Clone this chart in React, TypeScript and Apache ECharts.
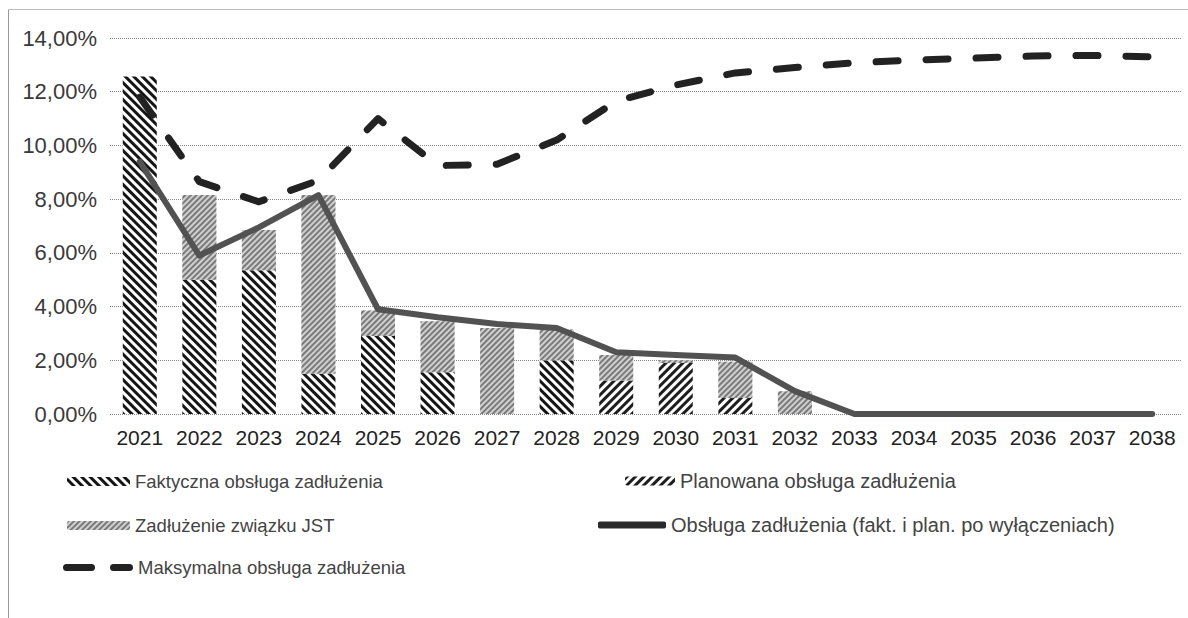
import React, { useEffect, useRef } from "react";
import * as echarts from "echarts";

const years = ["2021","2022","2023","2024","2025","2026","2027","2028","2029","2030","2031","2032","2033","2034","2035","2036","2037","2038"];
const faktyczna = [12.57, 5.0, 5.35, 1.5, 2.9, 1.55, 0, 2.0, 0, 0, 0, 0, 0, 0, 0, 0, 0, 0];
const planowana = [0, 0, 0, 0, 0, 0, 0, 0, 1.25, 1.9, 0.6, 0, 0, 0, 0, 0, 0, 0];
const zadluzenieJST = [0, 3.15, 1.5, 6.65, 0.95, 1.9, 3.2, 1.15, 0.95, 0.1, 1.35, 0.85, 0, 0, 0, 0, 0, 0];
const obslugaPoWylaczeniach = [9.4, 5.9, 6.95, 8.15, 3.9, 3.6, 3.35, 3.2, 2.3, 2.2, 2.1, 0.85, 0, 0, 0, 0, 0, 0];
const maksymalna = [11.8, 8.65, 7.9, 8.7, 11.0, 9.25, 9.3, 10.2, 11.65, 12.25, 12.7, 12.9, 13.08, 13.18, 13.25, 13.33, 13.35, 13.3];

const N1 = "Faktyczna obsługa zadłużenia";
const N2 = "Planowana obsługa zadłużenia";
const N3 = "Zadłużenie związku JST";
const N4 = "Obsługa zadłużenia (fakt. i plan. po wyłączeniach)";
const N5 = "Maksymalna obsługa zadłużenia";

const FONT = "'Liberation Sans', Arial, sans-serif";
const DASH_ICON =
  "path://M3.5,0H28.5A3.5,3.5,0,0,1,28.5,7H3.5A3.5,3.5,0,0,1,3.5,0Z M50.5,0H66.5A3.5,3.5,0,0,1,66.5,7H50.5A3.5,3.5,0,0,1,50.5,0Z";

export default function App() {
  const ref = useRef<HTMLDivElement>(null);
  useEffect(() => {
    if (!ref.current) return;
    const chart = echarts.init(ref.current, null, { renderer: "svg" });
    const legendText = { fontFamily: FONT, fontSize: 18.5, color: "#444" };
    const legendTextR = { fontFamily: FONT, fontSize: 20, color: "#444" };
    const option: any = {
      animation: false,
      backgroundColor: "#fff",
      grid: { left: 110, right: 6, top: 38, bottom: 204, containLabel: false },
      xAxis: {
        type: "category",
        data: years,
        axisLine: { show: false },
        axisTick: { show: false },
        axisLabel: { fontFamily: FONT, fontSize: 21, color: "#222", margin: 13, interval: 0, hideOverlap: false },
      },
      yAxis: {
        type: "value",
        min: 0,
        max: 14,
        interval: 2,
        axisLine: { show: false },
        axisTick: { show: false },
        axisLabel: {
          fontFamily: FONT,
          fontSize: 22,
          color: "#3a3a3a",
          margin: 13,
          formatter: (v: number) => v.toFixed(2).replace(".", ",") + "%",
        },
        splitLine: { lineStyle: { color: "#888", type: "dotted", width: 1 } },
      },
      legend: [
        { data: [N1], left: 62, top: 467, itemWidth: 63, itemHeight: 9, textStyle: legendText },
        { data: [N3], left: 62, top: 511, itemWidth: 63, itemHeight: 9, textStyle: legendText },
        {
          data: [{ name: N5, icon: DASH_ICON }],
          left: 58, top: 553, itemWidth: 70, itemHeight: 7,
          itemStyle: { color: "#222" },
          textStyle: legendText,
        },
        { data: [N2], left: 620, top: 466, itemWidth: 50, itemHeight: 9, textStyle: legendTextR },
        {
          data: [{ name: N4, icon: "roundRect" }],
          left: 593, top: 510, itemWidth: 68, itemHeight: 7,
          itemStyle: { color: "#2a2a2a" },
          textStyle: legendTextR,
        },
      ],
      graphic: [
        { type: "line", shape: { x1: 8.5, y1: 9.5, x2: 8.5, y2: 618 }, style: { stroke: "#999", lineWidth: 1 } },
        { type: "line", shape: { x1: 8.5, y1: 9.5, x2: 1188, y2: 9.5 }, style: { stroke: "#bbb", lineWidth: 1 } },
      ],
      series: [
        {
          name: N1,
          type: "bar",
          stack: "b",
          barWidth: 34,
          data: faktyczna,
          itemStyle: {
            color: "#fff",
            decal: { symbol: "rect", symbolSize: 1, color: "#151515", dashArrayX: [1, 0], dashArrayY: [3, 3], rotation: Math.PI / 4 },
          },
        },
        {
          name: N2,
          type: "bar",
          stack: "b",
          barWidth: 34,
          data: planowana,
          itemStyle: {
            color: "#fff",
            decal: { symbol: "rect", symbolSize: 1, color: "#1e1e1e", dashArrayX: [1, 0], dashArrayY: [3, 3], rotation: -Math.PI / 4 },
          },
        },
        {
          name: N3,
          type: "bar",
          stack: "b",
          barWidth: 34,
          data: zadluzenieJST,
          itemStyle: {
            color: "#d0d0d0",
            decal: { symbol: "rect", symbolSize: 1, color: "#7a7a7a", dashArrayX: [1, 0], dashArrayY: [2, 2], rotation: -Math.PI / 4 },
          },
        },
        {
          name: N4,
          type: "line",
          data: obslugaPoWylaczeniach,
          symbol: "none",
          lineStyle: { color: "#525252", width: 6, cap: "round", join: "round" },
          itemStyle: { color: "#525252" },
          z: 5,
        },
        {
          name: N5,
          type: "line",
          data: maksymalna,
          symbol: "none",
          lineStyle: { color: "#222", width: 7, type: [22, 28], cap: "round", join: "round" },
          itemStyle: { color: "#222" },
          z: 6,
        },
      ],
    };
    chart.setOption(option);
    return () => chart.dispose();
  }, []);
  return <div ref={ref} style={{ width: 1188, height: 618, position: "absolute", left: 0, top: 0 }} />;
}
